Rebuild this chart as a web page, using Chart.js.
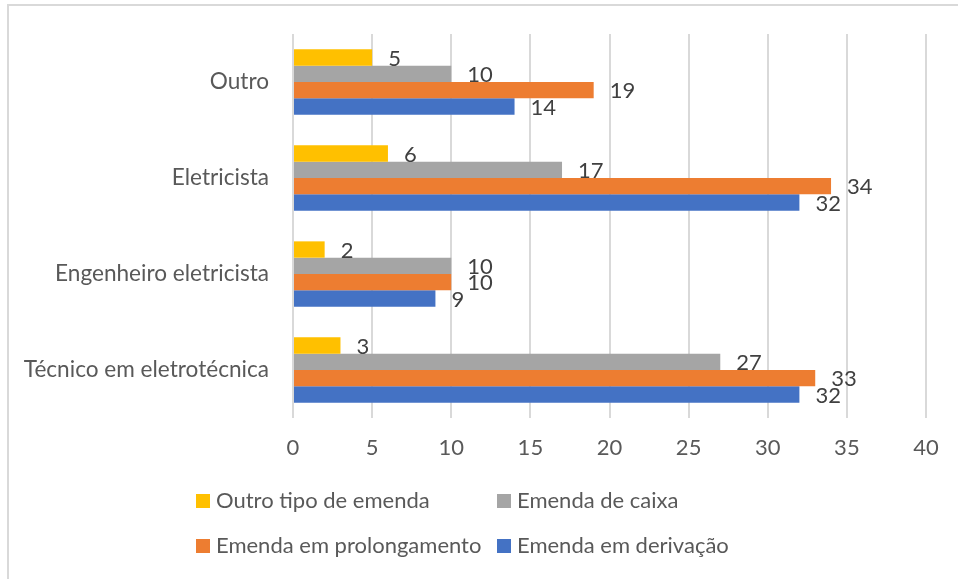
<!DOCTYPE html>
<html>
<head>
<meta charset="utf-8">
<script src="https://cdn.jsdelivr.net/npm/chart.js@4.4.1/dist/chart.umd.min.js"></script>
<style>
  html, body { margin: 0; padding: 0; background: #fff; }
  #wrap { position: relative; width: 958px; height: 579px; }
  #wrap canvas { position: absolute; left: 0; top: 0; }
  #frame { position: absolute; left: 7px; top: 4px; right: -10px; bottom: -10px; border: 2px solid #d9d9d9; }
</style>
</head>
<body>
<div id="wrap">
  <div id="frame"></div>
  <canvas id="chart" width="958" height="579"></canvas>
</div>
<script>
// categorias (de cima para baixo) e séries
const categorias = ['Outro', 'Eletricista', 'Engenheiro eletricista', 'Técnico em eletrotécnica'];
const outroTipo = [5, 6, 2, 3];
const emendaCaixa = [10, 17, 10, 27];
const emendaProlongamento = [19, 34, 10, 33];
const emendaDerivacao = [14, 32, 9, 32];
const ticksX = [0, 5, 10, 15, 20, 25, 30, 35, 40];

const fonte = 'Lato, "Liberation Sans", sans-serif';

// rótulos de valor ao lado de cada barra
const rotulos = {
  id: 'rotulos',
  afterDatasetsDraw(chart) {
    const ctx = chart.ctx;
    ctx.save();
    ctx.font = '22px ' + fonte;
    ctx.fillStyle = '#404040';
    ctx.textAlign = 'left';
    ctx.textBaseline = 'middle';
    chart.data.datasets.forEach((ds, i) => {
      chart.getDatasetMeta(i).data.forEach((bar, j) => {
        ctx.fillText(ds.data[j], bar.x + 16, bar.y + 1);
      });
    });
    ctx.restore();
  }
};

// legenda em duas colunas
const legenda = {
  id: 'legenda',
  afterDraw(chart) {
    const ctx = chart.ctx;
    const cols = [196, 497];
    const rows = [501, 546];
    ctx.save();
    ctx.font = '22px ' + fonte;
    ctx.textAlign = 'left';
    ctx.textBaseline = 'middle';
    chart.data.datasets.forEach((ds, i) => {
      const x = cols[i % 2];
      const y = rows[Math.floor(i / 2)];
      ctx.fillStyle = ds.backgroundColor;
      ctx.fillRect(x, y - 7, 14, 14);
      ctx.fillStyle = '#595959';
      ctx.fillText(ds.label, x + 20, y);
    });
    ctx.restore();
  }
};

const ctx = document.getElementById('chart').getContext('2d');
new Chart(ctx, {
  type: 'bar',
  data: {
    labels: categorias,
    datasets: [
      { label: 'Outro tipo de emenda', data: outroTipo, backgroundColor: '#FFC000' },
      { label: 'Emenda de caixa', data: emendaCaixa, backgroundColor: '#A5A5A5' },
      { label: 'Emenda em prolongamento', data: emendaProlongamento, backgroundColor: '#ED7D31' },
      { label: 'Emenda em derivação', data: emendaDerivacao, backgroundColor: '#4472C4' }
    ]
  },
  options: {
    indexAxis: 'y',
    responsive: false,
    animation: false,
    categoryPercentage: 0.68,
    barPercentage: 1,
    layout: { padding: { top: 34, right: 32, left: 0, bottom: 0 } },
    scales: {
      x: {
        min: 0,
        max: 40,
        afterBuildTicks: s => { s.ticks = ticksX.map(v => ({ value: v })); },
        afterFit: s => { s.height = 161; },
        grid: { color: '#d9d9d9', lineWidth: 2, drawTicks: false },
        border: { display: false },
        ticks: { color: '#595959', font: { family: fonte, size: 22 }, padding: 17 }
      },
      y: {
        afterFit: s => { s.width = 293; s.paddingTop = 0; s.paddingBottom = 0; },
        grid: { display: false, drawTicks: false },
        border: { display: false },
        ticks: { color: '#595959', font: { family: fonte, size: 22.6 }, padding: 24 }
      }
    },
    plugins: {
      legend: { display: false },
      tooltip: { enabled: false }
    }
  },
  plugins: [rotulos, legenda]
});
</script>
</body>
</html>
